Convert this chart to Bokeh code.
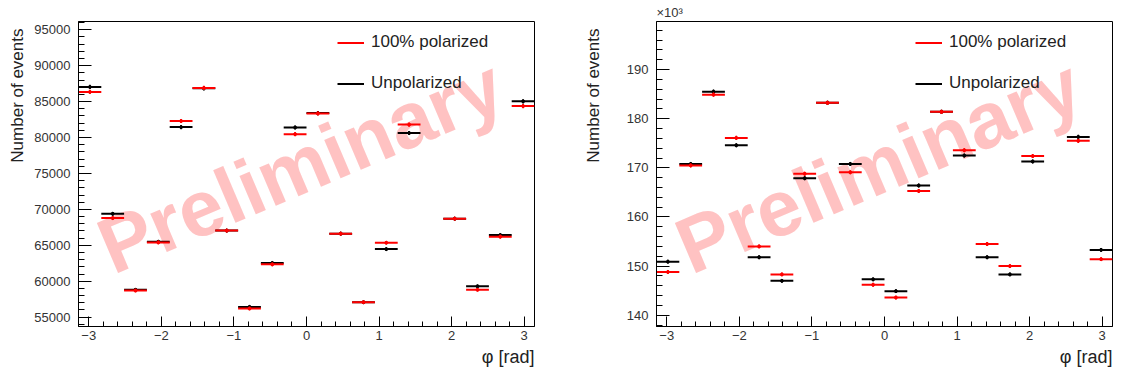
import numpy as np
from bokeh.plotting import figure
from bokeh.layouts import row
from bokeh.models import (ColumnDataSource, Range1d, FixedTicker, Label, Legend, LegendItem, Title)
from bokeh.embed import file_html
from bokeh.resources import INLINE

# ---- data ----
n_bins = 20
phi_min, phi_max = -np.pi, np.pi

# left panel: number of events
left_polarized = [86350, 68790, 58700, 65400, 82300, 86900, 67050, 56200, 62350, 80470,
                  83350, 66620, 57080, 65360, 81800, np.nan, 68700, 58800, 66200, 84380]
left_unpolarized = [87040, 69390, 58800, 65500, 81450, 86850, 67050, 56430, 62540, 81400,
                    83400, 66620, 57080, 64470, 80630, np.nan, 68700, 59300, 66430, 85040]

# right panel: number of events (x10^3)
right_polarized = [148.8, 170.5, 184.9, 176.1, 154.0, 148.3, 168.8, 183.25, 169.1, 146.2,
                   143.6, 165.3, 181.4, 173.6, 154.5, 150.0, 172.4, np.nan, 175.5, 151.4]
right_unpolarized = [150.9, 170.8, 185.5, 174.6, 151.8, 147.0, 167.9, 183.25, 170.8, 147.3,
                     144.9, 166.4, 181.4, 172.5, 151.8, 148.3, 171.3, np.nan, 176.3, 153.3]

x_tick_values = [-3, -2, -1, 0, 1, 2, 3]
x_tick_labels = ["\u22123", "\u22122", "\u22121", "0", "1", "2", "3"]
left_y_ticks = [55000, 60000, 65000, 70000, 75000, 80000, 85000, 90000, 95000]
right_y_ticks = [140, 150, 160, 170, 180, 190]

legend_labels = ["100% polarized", "Unpolarized"]
series_colors = ["#ff0000", "#000000"]

FONT = "Liberation Sans"
edges = np.linspace(phi_min, phi_max, n_bins + 1)
centers = 0.5 * (edges[:-1] + edges[1:])


def make_panel(pol, unpol, yr, yticks, yminor, err_scale, bl, br, fw, ytitle_standoff, show_exp):
    p = figure(width=bl + br + fw, height=376,
               x_range=Range1d(phi_min, phi_max), y_range=Range1d(*yr),
               output_backend="svg", toolbar_location=None,
               min_border_left=bl, min_border_right=br, min_border_top=20,
               min_border_bottom=50)
    p.grid.visible = False
    p.outline_line_color = "black"
    p.outline_line_width = 1
    p.background_fill_color = "white"
    p.border_fill_color = "white"

    # watermark
    wm = Label(x=222, y=161, x_units="screen", y_units="screen", text="Preliminary",
               angle=23, angle_units="deg", text_align="center", text_baseline="middle",
               text_font=FONT, text_font_style="bold", text_font_size="79px",
               text_color="#ffc2c2", level="underlay")
    p.add_layout(wm)

    renderers = []
    for vals, col in [(pol, series_colors[0]), (unpol, series_colors[1])][::-1]:
        v = np.array(vals, dtype=float)
        err = np.sqrt(v * err_scale) / err_scale
        src = ColumnDataSource(dict(x=centers, x0=edges[:-1], x1=edges[1:], y=v,
                                    lo=v - err, hi=v + err))
        r = p.segment(x0="x0", y0="y", x1="x1", y1="y", source=src,
                      line_color=col, line_width=2)
        p.segment(x0="x", y0="lo", x1="x", y1="hi", source=src,
                  line_color=col, line_width=1.5)
        p.scatter("x", "y", source=src, size=3, color=col)
        renderers.append(r)
    renderers = renderers[::-1]

    legend = Legend(items=[LegendItem(label=legend_labels[0], renderers=[renderers[0]]),
                           LegendItem(label=legend_labels[1], renderers=[renderers[1]])],
                    location=(259, 233), padding=0, margin=0, spacing=21,
                    glyph_width=27, glyph_height=17, label_height=17, label_standoff=7,
                    label_text_font=FONT, label_text_font_size="17px",
                    label_text_color="#222222", border_line_alpha=0,
                    background_fill_alpha=0)
    p.add_layout(legend)

    # axes
    xa = p.xaxis[0]
    xa.ticker = FixedTicker(ticks=x_tick_values,
                            minor_ticks=list(np.round(np.arange(-3.2, 3.21, 0.2), 2)))
    xa.major_label_overrides = {t: l for t, l in zip(x_tick_values, x_tick_labels)}
    xa.major_tick_in = 10
    xa.major_tick_out = 0
    xa.minor_tick_in = 5
    xa.minor_tick_out = 0
    xa.major_label_standoff = 4
    ya = p.yaxis[0]
    ya.ticker = FixedTicker(ticks=yticks, minor_ticks=yminor)
    ya.major_tick_in = 13
    ya.major_tick_out = 0
    ya.minor_tick_in = 6
    ya.minor_tick_out = 0
    ya.major_label_standoff = 8
    for a in (xa, ya):
        a.axis_line_color = "black"
        a.major_tick_line_color = "black"
        a.minor_tick_line_color = "black"
        a.major_label_text_font = FONT
        a.major_label_text_font_size = "13px"
        a.major_label_text_color = "#333333"

    # axis titles
    p.add_layout(Title(text="Number of events", align="right", offset=7,
                       standoff=ytitle_standoff, text_font=FONT, text_font_style="normal",
                       text_font_size="17px", text_color="#222222"), "left")
    p.add_layout(Title(text="\u03c6 [rad]", align="right", offset=0, standoff=4,
                       text_font=FONT, text_font_style="normal",
                       text_font_size="18px", text_color="#222222"), "below")
    if show_exp:
        p.add_layout(Title(text="\u00d710\u00b3", align="left", offset=0, standoff=4,
                           text_font=FONT, text_font_style="normal",
                           text_font_size="13px", text_color="#333333"), "above")
    return p


p1 = make_panel(left_polarized, left_unpolarized, (53700, 96150), left_y_ticks,
                list(range(53000, 97001, 1000)), 1.0, 77, 26, 457, 10, False)
p2 = make_panel(right_polarized, right_unpolarized, (137.7, 199.8), right_y_ticks,
                list(range(136, 201, 2)), 1000.0, 96, 7, 456, 42, True)

layout = row(p1, p2)
open("out.html", "w").write(file_html(layout, INLINE))
